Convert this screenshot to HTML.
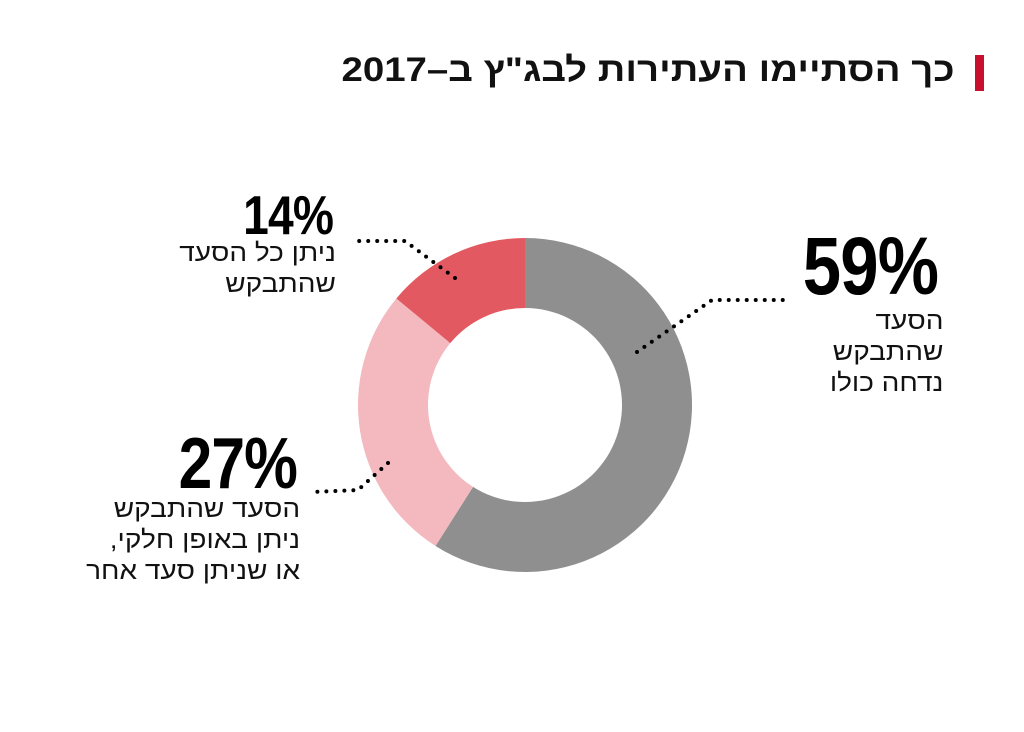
<!DOCTYPE html>
<html><head><meta charset="utf-8"><style>
body{margin:0;width:1024px;height:732px;background:#fff;overflow:hidden;position:relative;font-family:"Liberation Sans","Noto Sans CJK JP",sans-serif;}
.t{position:absolute;direction:rtl;text-align:right;color:#111;}
.pct{position:absolute;font-weight:bold;color:#000;transform-origin:right top;transform:scaleX(0.84);white-space:nowrap;letter-spacing:-1px;}
.lbl{position:absolute;direction:rtl;text-align:right;font-size:25px;line-height:31px;color:#111;white-space:nowrap;transform-origin:right top;transform:scaleX(1.12);}
</style></head><body>
<div style="position:absolute;left:975px;top:55px;width:9px;height:36px;background:#c8102e"></div>
<div class="t" style="right:69px;top:51px;font-size:34px;font-weight:bold;white-space:nowrap;transform-origin:right top;transform:scaleX(1.13)">כך הסתיימו העתירות לבג"ץ ב–2017</div>
<svg id="c" width="1024" height="732" style="position:absolute;left:0;top:0"></svg>
<div class="pct" style="right:86px;top:226px;font-size:82px;line-height:82px">59%</div>
<div class="lbl" style="right:81px;top:306px">הסעד<br>שהתבקש<br>נדחה כולו</div>
<div class="pct" style="right:691px;top:188px;font-size:55px;line-height:55px">14%</div>
<div class="lbl" style="right:688px;top:238px">ניתן כל הסעד<br>שהתבקש</div>
<div class="pct" style="right:727px;top:428px;font-size:72px;line-height:72px">27%</div>
<div class="lbl" style="right:724px;top:494px">הסעד שהתבקש<br>ניתן באופן חלקי,<br>או שניתן סעד אחר</div>
<script>
const categories=['נדחה כולו','ניתן חלקית','ניתן כולו'];
const values=[59,27,14];
const colors=['#8f8f8f','#f4b9be','#e35961'];
const svg=document.getElementById('c');
const NS='http://www.w3.org/2000/svg';
const cx=525,cy=405,R=167,r=97;
const total=values.reduce((a,b)=>a+b,0);
function pt(a,rad){return [cx+rad*Math.sin(a),cy-rad*Math.cos(a)];}
let acc=0;
values.forEach((v,i)=>{
 const a0=acc/total*2*Math.PI;acc+=v;const a1=acc/total*2*Math.PI;
 const lg=(a1-a0)>Math.PI?1:0;
 const [x0,y0]=pt(a0,R),[x1,y1]=pt(a1,R),[x2,y2]=pt(a1,r),[x3,y3]=pt(a0,r);
 const p=document.createElementNS(NS,'path');
 p.setAttribute('d',`M${x0},${y0}A${R},${R} 0 ${lg} 1 ${x1},${y1}L${x2},${y2}A${r},${r} 0 ${lg} 0 ${x3},${y3}Z`);
 p.setAttribute('fill',colors[i]);
 
 
 svg.appendChild(p);
});
const leaders=[[[637,352],[712,300],[790,300]],[[455,278],[405,241],[358,241]],[[388,463],[358,490],[313,492]]];
leaders.forEach((pts,i)=>{
 const pl=document.createElementNS(NS,'polyline');
 pl.setAttribute('points',pts.map(p=>p.join(',')).join(' '));
 pl.setAttribute('fill','none');pl.setAttribute('stroke','#000');pl.setAttribute('stroke-width','4');
 pl.setAttribute('stroke-linecap','round');pl.setAttribute('stroke-dasharray','0 9');
 
 
 svg.appendChild(pl);
});
</script>
</body></html>
